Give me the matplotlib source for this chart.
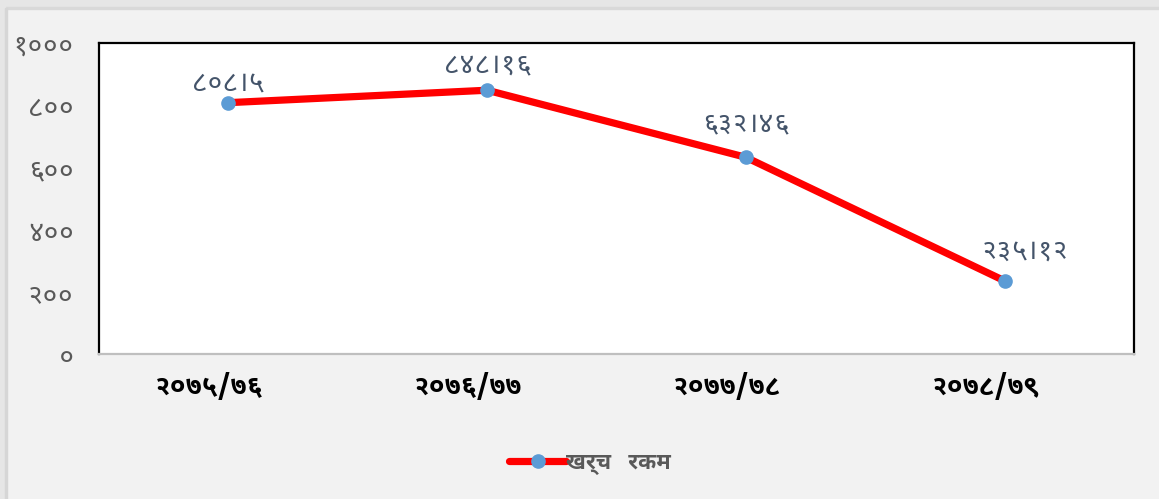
import matplotlib
matplotlib.use("Agg")
import matplotlib.pyplot as plt
from matplotlib import font_manager as fm
from matplotlib.ft2font import FT2Font
from matplotlib.patches import Rectangle
from matplotlib.transforms import ScaledTranslation
import os

categories = ["२०७५/७६", "२०७६/७७", "२०७७/७८", "२०७८/७९"]
values = [808.15, 848.16, 632.46, 235.12]
value_labels = ["८०८।५", "८४८।१६", "६३२।४६", "२३५।१२"]
yticks = [0, 200, 400, 600, 800, 1000]
ytick_labels = ["०", "२००", "४००", "६००", "८००", "१०००"]
series_name = "खर्च   रकम"

found = []
for f in fm.findSystemFonts():
    try:
        ft = FT2Font(f)
        if ord("क") in ft.get_charmap() and ord("०") in ft.get_charmap():
            found.append(f)
    except Exception:
        pass

def pick(prefs):
    for p in prefs:
        for f in found:
            if os.path.basename(f).lower().startswith(p.lower()):
                return f
    return found[0] if found else None

reg = pick(["NotoSansDevanagari-Regular", "NotoSansDevanagariUI-Regular", "Mukta-Regular", "Hind-Regular"])
bold = pick(["NotoSansDevanagari-Bold", "NotoSansDevanagariUI-Bold", "Mukta-Bold", "Hind-Bold"])
fams = []
for f in (reg, bold):
    if f:
        fm.fontManager.addfont(f)
        fams.append(fm.FontProperties(fname=f).get_name())
dev = fams[0] if fams else "DejaVu Sans"
plt.rcParams["font.family"] = [dev, "DejaVu Sans"]

W, H = 1159, 499
fig = plt.figure(figsize=(W/100, H/100), dpi=100, facecolor="#f2f2f2")
# window-like border bands
fig.patches.append(Rectangle((0, 1-8/H), 1, 8/H, transform=fig.transFigure, color="#e6e6e6", zorder=0))
fig.patches.append(Rectangle((0, 1-8.5/H), 1, 1.5/H, transform=fig.transFigure, color="#d9d9d9", zorder=0))
fig.patches.append(Rectangle((0, 0), 5/W, 1, transform=fig.transFigure, color="#e6e6e6", zorder=0))
fig.patches.append(Rectangle((5/W, 0), 2/W, 1-8/H, transform=fig.transFigure, color="#d6d6d6", zorder=0))

ax = fig.add_axes([99/W, 1-354/H, 1035/W, 311/H])
ax.plot(range(4), values, color="red", lw=5.2, marker="o", ms=9.5, mfc="#5b9bd5",
        mec="#5b9bd5", label=series_name, solid_capstyle="round", zorder=3)
ax.set_xlim(-0.5, 3.5)
ax.set_ylim(0, 1000)
ax.set_yticks(yticks, ytick_labels, fontsize=20, color="#595959")
ax.set_xticks(range(4), categories, fontsize=20, fontweight="bold", color="black")
ax.tick_params(axis="both", length=0)
ax.tick_params(axis="y", pad=18)
ax.tick_params(axis="x", pad=14)
shift = ScaledTranslation(-19/100, 0, fig.dpi_scale_trans)
for lbl in ax.get_xticklabels():
    lbl.set_transform(lbl.get_transform() + shift)
for s in ["left", "top", "right"]:
    ax.spines[s].set_color("black")
    ax.spines[s].set_linewidth(1.6)
ax.spines["bottom"].set_color("#bfbfbf")
ax.spines["bottom"].set_linewidth(1.6)

# label placement (pixels, layout only)
label_dx = [0, 0, 0, 20]
label_dy = [6, 12, 20, 16]
for i, (v, t) in enumerate(zip(values, value_labels)):
    ax.annotate(t, (i, v), xytext=(label_dx[i]*0.72, label_dy[i]*0.72), textcoords="offset points",
                ha="center", va="bottom", fontsize=20, color="#44546a")
leg = fig.legend(loc="center", bbox_to_anchor=(0.509, 1-464/H), frameon=False,
                 prop={"size": 16, "weight": "bold"}, handlelength=2.6, handletextpad=0.0)
for t in leg.get_texts():
    t.set_color("#595959")
fig.savefig("out.png", dpi=100, facecolor=fig.get_facecolor())
